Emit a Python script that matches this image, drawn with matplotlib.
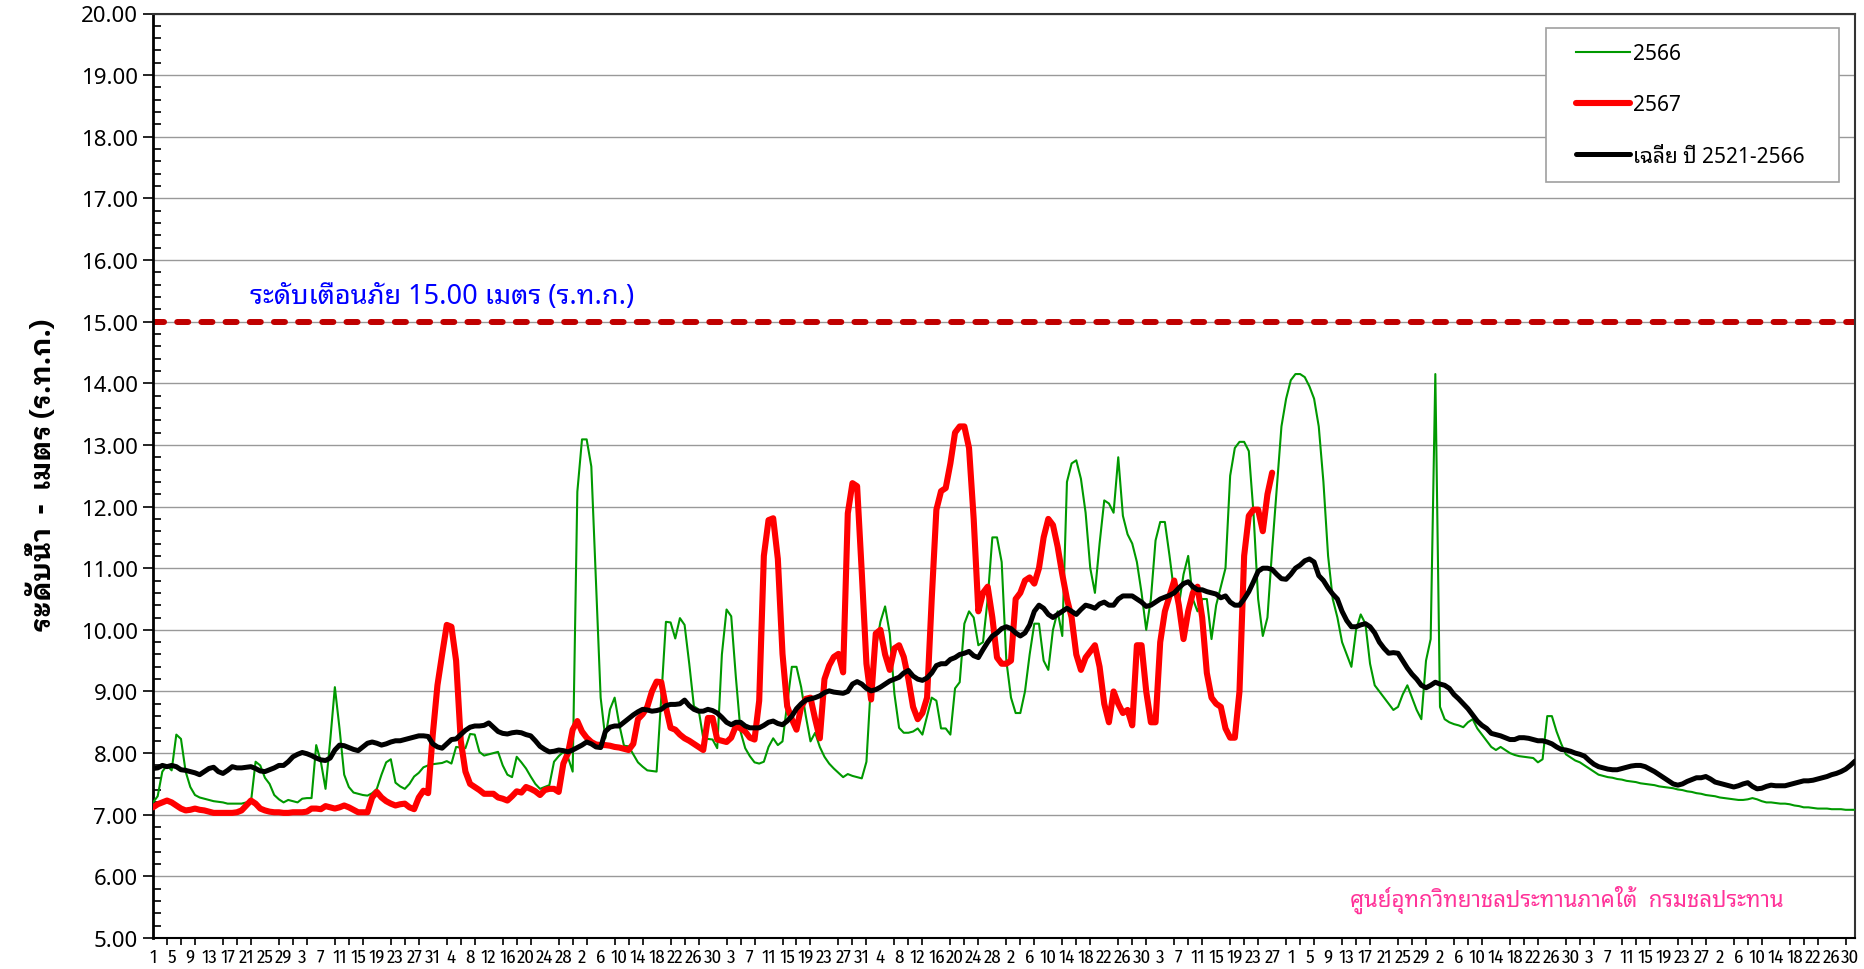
import numpy as np
import pandas as pd
import matplotlib
matplotlib.use('Agg')
import matplotlib.pyplot as plt
from matplotlib.patches import Rectangle
from matplotlib.ticker import MultipleLocator, FixedLocator, FormatStrFormatter

# days 1 Apr - 31 Mar (leap Feb)
dates = pd.date_range('2023-04-01', '2024-03-31')
day_labels = [str(d.day) for d in dates]

# ปี 2566
wl_2566 = [
    7.2, 7.3, 7.7, 7.8, 7.72, 8.3, 8.23, 7.7, 7.45, 7.32,
    7.28, 7.26, 7.24, 7.22, 7.21, 7.2, 7.18, 7.18, 7.18, 7.18,
    7.2, 7.2, 7.86, 7.8, 7.6, 7.5, 7.32, 7.25, 7.2, 7.24,
    7.22, 7.2, 7.26, 7.27, 7.27, 8.13, 7.86, 7.42, 8.2, 9.07,
    8.4, 7.65, 7.45, 7.36, 7.34, 7.32, 7.31, 7.35, 7.42, 7.65,
    7.85, 7.9, 7.52, 7.46, 7.42, 7.5, 7.62, 7.68, 7.77, 7.8,
    7.82, 7.83, 7.84, 7.87, 7.83, 8.1, 8.09, 8.08, 8.31, 8.3,
    8.02, 7.96, 7.98, 8.0, 8.02, 7.8, 7.65, 7.61, 7.94, 7.85,
    7.75, 7.62, 7.5, 7.42, 7.45, 7.48, 7.86, 7.95, 8.02, 7.93,
    7.7, 12.24, 13.09, 13.09, 12.65, 10.76, 8.9, 8.24, 8.71, 8.9,
    8.46, 8.12, 8.11, 7.98, 7.85, 7.78, 7.72, 7.71, 7.7, 8.9,
    10.13, 10.12, 9.86, 10.19, 10.08, 9.45, 8.76, 8.71, 8.24, 8.23,
    8.22, 8.08, 9.6, 10.33, 10.22, 9.23, 8.35, 8.08, 7.95, 7.85,
    7.83, 7.86, 8.1, 8.24, 8.13, 8.19, 8.8, 9.4, 9.4, 9.07,
    8.6, 8.19, 8.33, 8.1, 7.94, 7.83, 7.75, 7.68, 7.61, 7.66,
    7.63, 7.61, 7.59, 7.86, 9.18, 9.7, 10.13, 10.38, 9.94, 8.96,
    8.41, 8.33, 8.33, 8.35, 8.4, 8.3, 8.6, 8.9, 8.85, 8.4,
    8.4, 8.3, 9.05, 9.15, 10.1, 10.3, 10.2, 9.75, 9.8, 10.5,
    11.5, 11.5, 11.1, 9.5, 8.9, 8.65, 8.65, 9.0, 9.6, 10.1,
    10.1, 9.5, 9.35, 10.0, 10.3, 9.9, 12.4, 12.7, 12.75, 12.45,
    11.9, 11.0, 10.6, 11.4, 12.1, 12.05, 11.9, 12.8, 11.85, 11.55,
    11.4, 11.1, 10.6, 10.0, 10.5, 11.45, 11.75, 11.75, 11.2, 10.6,
    10.4, 10.9, 11.2, 10.5, 10.3, 10.5, 10.5, 9.85, 10.4, 10.7,
    11.0, 12.5, 12.95, 13.05, 13.05, 12.9, 11.9, 10.5, 9.9, 10.2,
    11.3, 12.3, 13.3, 13.75, 14.05, 14.15, 14.15, 14.1, 13.95, 13.75,
    13.3, 12.4, 11.2, 10.5, 10.2, 9.8, 9.6, 9.4, 10.0, 10.25,
    10.1, 9.45, 9.1, 9.0, 8.9, 8.8, 8.7, 8.75, 8.95, 9.1,
    8.9, 8.7, 8.55, 9.5, 9.85, 14.15, 8.75, 8.55, 8.5, 8.47,
    8.45, 8.42, 8.5, 8.55, 8.4, 8.3, 8.2, 8.1, 8.05, 8.1,
    8.05, 8.0, 7.97, 7.95, 7.94, 7.93, 7.92, 7.85, 7.9, 8.6,
    8.6, 8.35, 8.15, 7.98, 7.93, 7.88, 7.85, 7.8, 7.75, 7.7,
    7.65, 7.63, 7.61, 7.6, 7.58, 7.57, 7.55, 7.54, 7.53, 7.51,
    7.5, 7.49, 7.48, 7.46, 7.45, 7.44, 7.43, 7.41, 7.4, 7.38,
    7.37, 7.35, 7.34, 7.32, 7.31, 7.3, 7.28, 7.27, 7.26, 7.25,
    7.24, 7.24, 7.25, 7.27, 7.25, 7.22, 7.2, 7.2, 7.19, 7.18,
    7.18, 7.17, 7.15, 7.14, 7.12, 7.12, 7.11, 7.1, 7.1, 7.1,
    7.09, 7.09, 7.09, 7.08, 7.08, 7.08,
]

# ปี 2567 (ถึงปลาย พ.ย.)
wl_2567 = [
    7.12, 7.17, 7.2, 7.23, 7.2, 7.15, 7.1, 7.07, 7.08, 7.1,
    7.08, 7.07, 7.05, 7.03, 7.03, 7.03, 7.03, 7.03, 7.04, 7.07,
    7.15, 7.23, 7.18, 7.1, 7.07, 7.05, 7.04, 7.04, 7.03, 7.03,
    7.04, 7.04, 7.04, 7.05, 7.1, 7.1, 7.09, 7.14, 7.12, 7.1,
    7.12, 7.15, 7.12, 7.08, 7.04, 7.04, 7.04, 7.28, 7.37, 7.28,
    7.22, 7.18, 7.15, 7.17, 7.18, 7.12, 7.09, 7.28, 7.39, 7.35,
    8.3, 9.1, 9.6, 10.08, 10.05, 9.5, 8.2, 7.7, 7.5, 7.45,
    7.4, 7.34, 7.34, 7.34, 7.28, 7.26, 7.23, 7.3, 7.38, 7.36,
    7.45, 7.42, 7.38, 7.32, 7.4, 7.42, 7.42, 7.37, 7.83, 8.0,
    8.38, 8.52, 8.35, 8.25, 8.18, 8.14, 8.13, 8.13, 8.12, 8.1,
    8.09, 8.07, 8.05, 8.15, 8.55, 8.63, 8.75, 9.0, 9.16, 9.15,
    8.74, 8.41, 8.38, 8.3, 8.24, 8.2, 8.15, 8.1, 8.05, 8.57,
    8.57, 8.22, 8.2, 8.18, 8.25, 8.44, 8.4, 8.35, 8.25, 8.22,
    8.85, 11.2, 11.78, 11.81, 11.15, 9.61, 8.76, 8.55, 8.38, 8.75,
    8.88, 8.9, 8.55, 8.24, 9.2, 9.42, 9.56, 9.61, 9.31, 11.89,
    12.38, 12.33, 10.93, 9.45, 8.87, 9.94, 10.0, 9.6, 9.35, 9.7,
    9.75, 9.56, 9.2, 8.75, 8.55, 8.65, 8.9, 10.5, 11.95, 12.25,
    12.3, 12.7, 13.2, 13.3, 13.3, 12.95, 11.8, 10.3, 10.6, 10.7,
    10.2, 9.55, 9.45, 9.45, 9.5, 10.5, 10.6, 10.8, 10.85, 10.75,
    11.0, 11.5, 11.8, 11.7, 11.35, 10.9, 10.5, 10.2, 9.6, 9.35,
    9.55, 9.65, 9.75, 9.4, 8.8, 8.5, 9.0, 8.8, 8.65, 8.7,
    8.45, 9.75, 9.75, 9.0, 8.5, 8.5, 9.8, 10.3, 10.55, 10.8,
    10.4, 9.85, 10.3, 10.6, 10.7, 10.2, 9.3, 8.9, 8.8, 8.75,
    8.4, 8.25, 8.25, 9.0, 11.2, 11.85, 11.95, 11.95, 11.6, 12.2,
    12.55,
]

# เฉลี่ย ปี 2521-2566
wl_avg = [
    7.75, 7.76, 7.8, 7.78, 7.8, 7.78, 7.73, 7.72, 7.7, 7.68,
    7.65, 7.7, 7.75, 7.77, 7.7, 7.67, 7.72, 7.78, 7.76, 7.76,
    7.77, 7.78, 7.75, 7.71, 7.7, 7.73, 7.76, 7.8, 7.8, 7.86,
    7.94, 7.98, 8.01, 7.99, 7.96, 7.92, 7.89, 7.88, 7.92, 8.05,
    8.13, 8.12, 8.09, 8.06, 8.04, 8.1, 8.16, 8.18, 8.16, 8.13,
    8.15, 8.18, 8.2, 8.2, 8.22, 8.24, 8.26, 8.28, 8.28, 8.27,
    8.15, 8.1, 8.08, 8.15, 8.22, 8.23, 8.3, 8.37, 8.42, 8.44,
    8.44, 8.45, 8.49, 8.42, 8.35, 8.32, 8.31, 8.33, 8.34, 8.33,
    8.3, 8.28, 8.2, 8.11, 8.06, 8.02, 8.03, 8.05, 8.04, 8.02,
    8.05, 8.09, 8.13, 8.18, 8.15, 8.1, 8.09, 8.35, 8.42, 8.44,
    8.44, 8.5, 8.56, 8.62, 8.67, 8.71, 8.7, 8.68, 8.69, 8.71,
    8.77, 8.79, 8.79, 8.8, 8.86, 8.77, 8.71, 8.68, 8.68, 8.71,
    8.69, 8.65, 8.58, 8.5, 8.46, 8.5, 8.5, 8.44, 8.41, 8.41,
    8.41, 8.45, 8.5, 8.52, 8.48, 8.46, 8.52, 8.6, 8.72, 8.8,
    8.86, 8.88, 8.9, 8.93, 8.98, 9.01, 8.99, 8.98, 8.97, 9.0,
    9.12, 9.16, 9.12, 9.05, 9.01, 9.03, 9.07, 9.12, 9.17, 9.2,
    9.23, 9.3, 9.34, 9.25, 9.2, 9.18, 9.22, 9.3, 9.42, 9.45,
    9.45, 9.52, 9.55, 9.6, 9.62, 9.65, 9.58, 9.55, 9.68, 9.8,
    9.9, 9.95, 10.02, 10.05, 10.02, 9.95, 9.9, 9.95, 10.08, 10.3,
    10.4, 10.35, 10.25, 10.2, 10.25, 10.3, 10.35, 10.3, 10.25, 10.33,
    10.4, 10.38, 10.35, 10.42, 10.45, 10.4, 10.4, 10.5, 10.55, 10.55,
    10.55, 10.5, 10.45, 10.38, 10.4, 10.45, 10.5, 10.53, 10.56, 10.6,
    10.68, 10.75, 10.78, 10.7, 10.65, 10.65, 10.62, 10.6, 10.58, 10.52,
    10.55, 10.45, 10.4, 10.4, 10.5, 10.62, 10.78, 10.95, 11.0, 11.0,
    10.98, 10.9, 10.83, 10.82, 10.9, 11.0, 11.05, 11.12, 11.15, 11.1,
    10.88, 10.8, 10.68, 10.58, 10.5, 10.3, 10.15, 10.05, 10.05, 10.08,
    10.1, 10.05, 9.95, 9.8, 9.7, 9.62, 9.63, 9.62, 9.5, 9.38,
    9.28, 9.2, 9.1, 9.06, 9.1, 9.15, 9.12, 9.1, 9.05, 8.95,
    8.88, 8.8, 8.72, 8.62, 8.52, 8.45, 8.4, 8.32, 8.3, 8.28,
    8.25, 8.22, 8.22, 8.25, 8.25, 8.24, 8.22, 8.2, 8.2, 8.18,
    8.15, 8.1, 8.06, 8.05, 8.03, 8.0, 7.98, 7.95, 7.88, 7.82,
    7.78, 7.76, 7.74, 7.73, 7.73, 7.75, 7.77, 7.79, 7.8, 7.8,
    7.78, 7.74, 7.7, 7.65, 7.6, 7.55, 7.5, 7.48, 7.5, 7.54,
    7.57, 7.6, 7.6, 7.62, 7.58, 7.53, 7.51, 7.49, 7.47, 7.45,
    7.47, 7.5, 7.52, 7.46, 7.42, 7.43, 7.46, 7.48, 7.47, 7.47,
    7.47, 7.49, 7.51, 7.53, 7.55, 7.55, 7.56, 7.58, 7.6, 7.62,
    7.65, 7.67, 7.7, 7.74, 7.8, 7.87,
]

warn_level = 15.0
warn_text = 'ระดับเตือนภัย 15.00 เมตร (ร.ท.ก.)'
ylabel_text = 'ระดับน้ำ  -  เมตร (ร.ท.ก.)'
footer_text = 'ศูนย์อุทกวิทยาชลประทานภาคใต้  กรมชลประทาน'
series_names = ['2566', '2567', 'เฉลี่ย ปี 2521-2566']

plt.rcParams['font.family'] = ['Noto Sans Thai Looped', 'Noto Sans', 'DejaVu Sans']

x = np.arange(len(dates))

fig = plt.figure(figsize=(18.65, 9.7), dpi=100)
ax = fig.add_axes([153 / 1865, 1 - 939 / 970, 1702 / 1865, 924.5 / 970])

ax.plot(x, wl_2566, color='#009900', lw=1.5, label=series_names[0], zorder=3)
ax.plot(x[:len(wl_2567)], wl_2567, color='#ff0000', lw=4.4, label=series_names[1],
        solid_joinstyle='round', solid_capstyle='round', zorder=4)
ax.plot(x, wl_avg, color='black', lw=3.6, label=series_names[2],
        solid_joinstyle='round', solid_capstyle='round', zorder=5)
ax.axhline(warn_level, color='#c00000', lw=4.3, dashes=(1.85, 2.2), dash_capstyle='round', zorder=2)

ax.set_xlim(0, len(dates) - 1)
ax.set_ylim(5, 20)
ax.yaxis.set_major_locator(MultipleLocator(1))
ax.yaxis.set_minor_locator(MultipleLocator(0.2))
ax.yaxis.set_major_formatter(FormatStrFormatter('%.2f'))
ax.grid(axis='y', which='major', color='#999999', lw=1)
ax.set_axisbelow(True)

lab_pos = x[::4]
ax.xaxis.set_major_locator(FixedLocator(lab_pos))
ax.set_xticklabels([day_labels[i] for i in lab_pos], family=['Fira Sans Condensed', 'DejaVu Sans'])
ax.xaxis.set_minor_locator(FixedLocator(x[::3]))
ax.tick_params(axis='x', which='major', length=0, pad=7, labelsize=13.5)
ax.tick_params(axis='x', which='minor', length=5, width=1.2, direction='out')
ax.tick_params(axis='y', which='major', length=7, width=1.2, direction='out', labelsize=16, pad=4)
ax.tick_params(axis='y', which='minor', length=6, width=1.2, direction='in')
for s in ax.spines.values():
    s.set_linewidth(1.5)
    s.set_color('#333333')
ax.spines['left'].set_color('black')
ax.spines['left'].set_linewidth(2)
ax.spines['bottom'].set_color('black')

ax.text(20.7, 15.42, warn_text, color='#0000ff', fontsize=19.5, va='center', ha='left')
ax.text(349.7, 5.63, footer_text, color='#ff3399', fontsize=16, va='center', ha='right')
fig.text(42 / 1865, 1 - 475 / 970, ylabel_text, rotation=90, ha='center', va='center',
         fontsize=19.8, fontweight='bold',
         family=['IBM Plex Sans Thai Looped', 'Noto Sans Thai Looped', 'DejaVu Sans'])

# legend box drawn separately so paddings match
ax.add_patch(Rectangle((0.8182, 0.8177), 0.1722, 0.1666, transform=ax.transAxes,
                       facecolor='white', edgecolor='#a0a0a0', lw=1.2, zorder=6))
leg = ax.legend(loc='upper left', bbox_to_anchor=(0.8358, 0.968), fontsize=15,
                frameon=False, handlelength=2.6, handletextpad=0.15, labelspacing=1.45,
                borderpad=0, borderaxespad=0)
leg.set_zorder(7)

fig.savefig('out.png', dpi=100)
